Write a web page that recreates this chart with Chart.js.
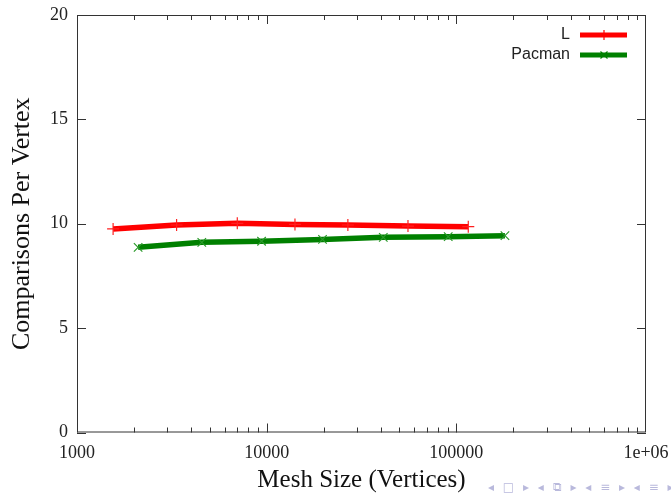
<!DOCTYPE html>
<html>
<head>
<meta charset="utf-8">
<script src="https://cdn.jsdelivr.net/npm/chart.js@4/dist/chart.umd.min.js"></script>
<style>
html,body{margin:0;padding:0;background:#fff;}
#wrap{position:relative;width:671px;height:493px;}
#nav{position:absolute;left:488px;top:480px;font:12px "DejaVu Sans";color:#b9b9dc;letter-spacing:2.5px;white-space:nowrap;}
</style>
</head>
<body>
<div id="wrap">
<canvas id="c" width="671" height="493"></canvas>
<div id="nav">◂ □ ▸ ◂ ⧉ ▸ ◂ ≡ ▸ ◂ ≡ ▸</div>
</div>
<script>
// Data
const seriesNames = ["L", "Pacman"];
const sizesL = [1550, 3350, 7000, 14100, 26800, 55600, 115600];
const compL = [9.75, 9.94, 10.02, 9.97, 9.94, 9.89, 9.86];
const sizesPacman = [2100, 4550, 9400, 19700, 41200, 90600, 180400];
const compPacman = [8.87, 9.11, 9.16, 9.25, 9.35, 9.38, 9.43];
const xTickValues = [1000, 10000, 100000, 1000000];
const xTickLabels = ["1000", "10000", "100000", "1e+06"];
const yTickValues = [0, 5, 10, 15, 20];

const toPts = (xs, ys) => xs.map((x, i) => ({x: x, y: ys[i]}));

const serif = "'Liberation Serif', 'DejaVu Serif', serif";

const zeroPad = (s) => { s.paddingTop = 0; s.paddingBottom = 0; s.paddingLeft = 0; s.paddingRight = 0; };

const framePlugin = {
  id: 'frame',
  afterDatasetsDraw(chart) {
    const ctx = chart.ctx;
    const a = chart.chartArea;
    const xs = chart.scales.x, ys = chart.scales.y;
    ctx.save();
    ctx.strokeStyle = '#333';
    ctx.lineWidth = 1;
    ctx.strokeRect(a.left + 0.5, a.top + 0.5, a.right - a.left - 1, a.bottom - a.top - 1);
    ctx.beginPath();
    yTickValues.forEach(v => {
      const p = Math.round(ys.getPixelForValue(v)) + 0.5;
      ctx.moveTo(a.left, p); ctx.lineTo(a.left + 9, p);
      ctx.moveTo(a.right, p); ctx.lineTo(a.right - 9, p);
    });
    for (let d = 1000; d < 1000000; d *= 10) {
      for (let m = 1; m < 10; m++) {
        const v = d * m;
        const p = Math.round(xs.getPixelForValue(v)) + 0.5;
        const len = m === 1 ? 9 : 5;
        ctx.moveTo(p, a.bottom); ctx.lineTo(p, a.bottom - len);
        ctx.moveTo(p, a.top); ctx.lineTo(p, a.top + len);
      }
    }
    ctx.stroke();
    ctx.restore();
  },
  afterDraw(chart) {
    const ctx = chart.ctx;
    ctx.save();
    const rows = [35, 55];
    chart.data.datasets.forEach((ds, i) => {
      const y = rows[i];
      ctx.font = "16px 'Liberation Sans', Arial, sans-serif";
      ctx.fillStyle = '#222';
      ctx.textAlign = 'right';
      ctx.textBaseline = 'middle';
      ctx.fillText(ds.label, 570, y);
      ctx.strokeStyle = ds.borderColor;
      ctx.lineWidth = 5;
      ctx.beginPath();
      ctx.moveTo(580, y); ctx.lineTo(627, y);
      ctx.stroke();
      ctx.lineWidth = 1.2;
      ctx.beginPath();
      const cx = 604, r = 5;
      if (ds.pointStyle === 'cross') {
        ctx.moveTo(cx - r, y); ctx.lineTo(cx + r, y);
        ctx.moveTo(cx, y - r); ctx.lineTo(cx, y + r);
      } else {
        ctx.moveTo(cx - r * 0.7, y - r * 0.7); ctx.lineTo(cx + r * 0.7, y + r * 0.7);
        ctx.moveTo(cx - r * 0.7, y + r * 0.7); ctx.lineTo(cx + r * 0.7, y - r * 0.7);
      }
      ctx.stroke();
    });
    ctx.restore();
  }
};

new Chart(document.getElementById('c'), {
  type: 'line',
  data: {
    datasets: [
      {
        label: seriesNames[0],
        data: toPts(sizesL, compL),
        borderColor: '#ff0000',
        backgroundColor: '#ff0000',
        borderWidth: 5.5,
        pointStyle: 'cross',
        pointRadius: 6,
        pointBorderWidth: 1.2,
        pointBorderColor: '#ff2020',
        tension: 0,
        fill: false
      },
      {
        label: seriesNames[1],
        data: toPts(sizesPacman, compPacman),
        borderColor: '#008000',
        backgroundColor: '#008000',
        borderWidth: 5.5,
        pointStyle: 'crossRot',
        pointRadius: 6,
        pointBorderWidth: 1.2,
        pointBorderColor: '#2a9a2a',
        tension: 0,
        fill: false
      }
    ]
  },
  options: {
    responsive: false,
    animation: false,
    devicePixelRatio: 1,
    layout: {padding: {top: 15, right: 25, bottom: 0, left: 0}},
    plugins: {legend: {display: false}, tooltip: {enabled: false}},
    scales: {
      x: {
        type: 'logarithmic',
        min: 1000,
        max: 1000000,
        grid: {display: false, drawTicks: false},
        border: {display: false},
        afterBuildTicks: (s) => { s.ticks = xTickValues.map(v => ({value: v})); },
        afterFit: (s) => { s.height = 60.5; zeroPad(s); },
        ticks: {
          autoSkip: false,
          maxRotation: 0,
          padding: 10,
          color: '#222',
          font: {family: serif, size: 18},
          callback: (v) => { const i = xTickValues.indexOf(v); return i >= 0 ? xTickLabels[i] : ''; }
        },
        title: {
          display: true,
          text: 'Mesh Size (Vertices)',
          color: '#111',
          font: {family: serif, size: 25, lineHeight: 1},
          padding: {top: 0, bottom: 0}
        }
      },
      y: {
        min: 0,
        max: 20,
        grid: {display: false, drawTicks: false},
        border: {display: false},
        afterBuildTicks: (s) => { s.ticks = yTickValues.map(v => ({value: v})); },
        afterFit: (s) => { s.width = 77; zeroPad(s); },
        ticks: {
          padding: 9,
          color: '#222',
          font: {family: serif, size: 18}
        },
        title: {
          display: true,
          text: 'Comparisons Per Vertex',
          color: '#111',
          font: {family: serif, size: 26, lineHeight: 1},
          padding: {top: 9, bottom: 0}
        }
      }
    }
  },
  plugins: [framePlugin]
});
</script>
</body>
</html>
